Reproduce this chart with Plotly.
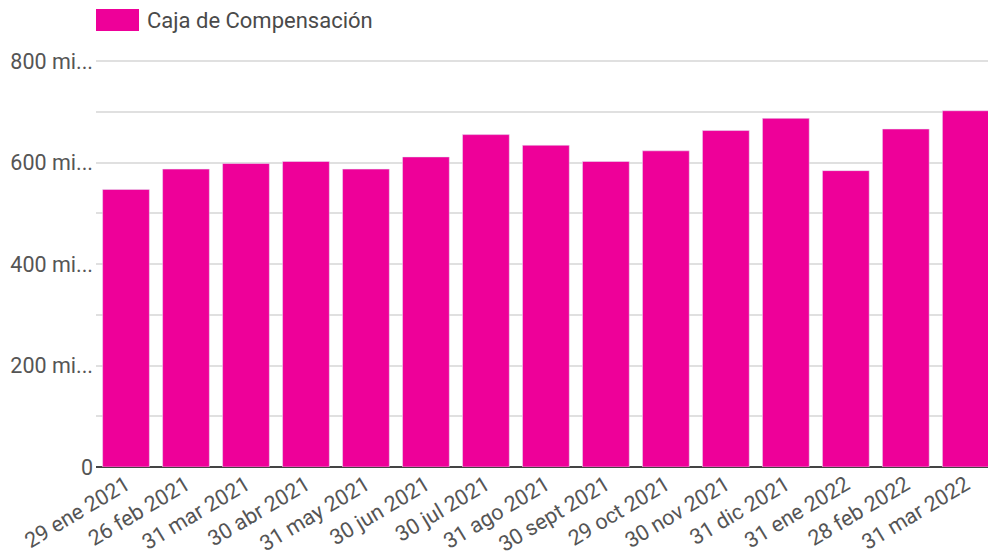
import plotly.graph_objects as go

categories = ["29 ene 2021", "26 feb 2021", "31 mar 2021", "30 abr 2021", "31 may 2021",
              "30 jun 2021", "30 jul 2021", "31 ago 2021", "30 sept 2021", "29 oct 2021",
              "30 nov 2021", "31 dic 2021", "31 ene 2022", "28 feb 2022", "31 mar 2022"]
values = [547, 587, 598, 602, 587, 611, 655, 634, 602, 623, 663, 687, 584, 666, 702]
series_name = "Caja de Compensación"
ytick_vals = [0, 200, 400, 600, 800]
ytick_text = ["0", "200 mi...", "400 mi...", "600 mi...", "800 mi..."]
yminor_vals = [100, 300, 500, 700]

color = "#EE0099"
font = "Roboto"
textcol = "#555555"

fig = go.Figure()
fig.add_trace(go.Bar(x=categories, y=values, name=series_name, marker_color=color,
                     showlegend=False))

T, B, L = 60, 89, 96
fig.update_layout(
    width=988, height=556,
    margin=dict(l=L, r=0, t=T, b=B),
    plot_bgcolor="white", paper_bgcolor="white",
    bargap=0.22,
    font=dict(family=font, size=21, color=textcol),
    xaxis=dict(range=[-0.5, 14.37], tickangle=-31, showgrid=False, automargin=False,
               tickfont=dict(size=21.5, color=textcol), ticks=""),
    yaxis=dict(range=[0, 802], tickvals=ytick_vals, ticktext=ytick_text, automargin=False,
               showgrid=True, gridcolor="#e0e0e0", gridwidth=1.5,
               zeroline=True, zerolinecolor="#444444", zerolinewidth=1.5,
               minor=dict(tickvals=yminor_vals, showgrid=True, gridcolor="#e0e0e0", gridwidth=1.5),
               tickfont=dict(size=21.5, color=textcol), ticks="", ticklabelstandoff=2),
)

# legend
H = 556 - T - B
W = 988 - L
fig.add_shape(type="rect", xref="paper", yref="paper",
              x0=0, x1=43/W, y0=1 + (T-31)/H, y1=1 + (T-9)/H,
              fillcolor=color, line=dict(width=0))
fig.add_annotation(xref="paper", yref="paper", x=49/W, y=1 + (T-20)/H,
                   text=series_name, showarrow=False, xanchor="left", yanchor="middle",
                   font=dict(family=font, size=22, color="#4a4a4a"))

fig.write_html("out.html", config={"displayModeBar": False},
               post_script="document.body.style.margin='0';")
